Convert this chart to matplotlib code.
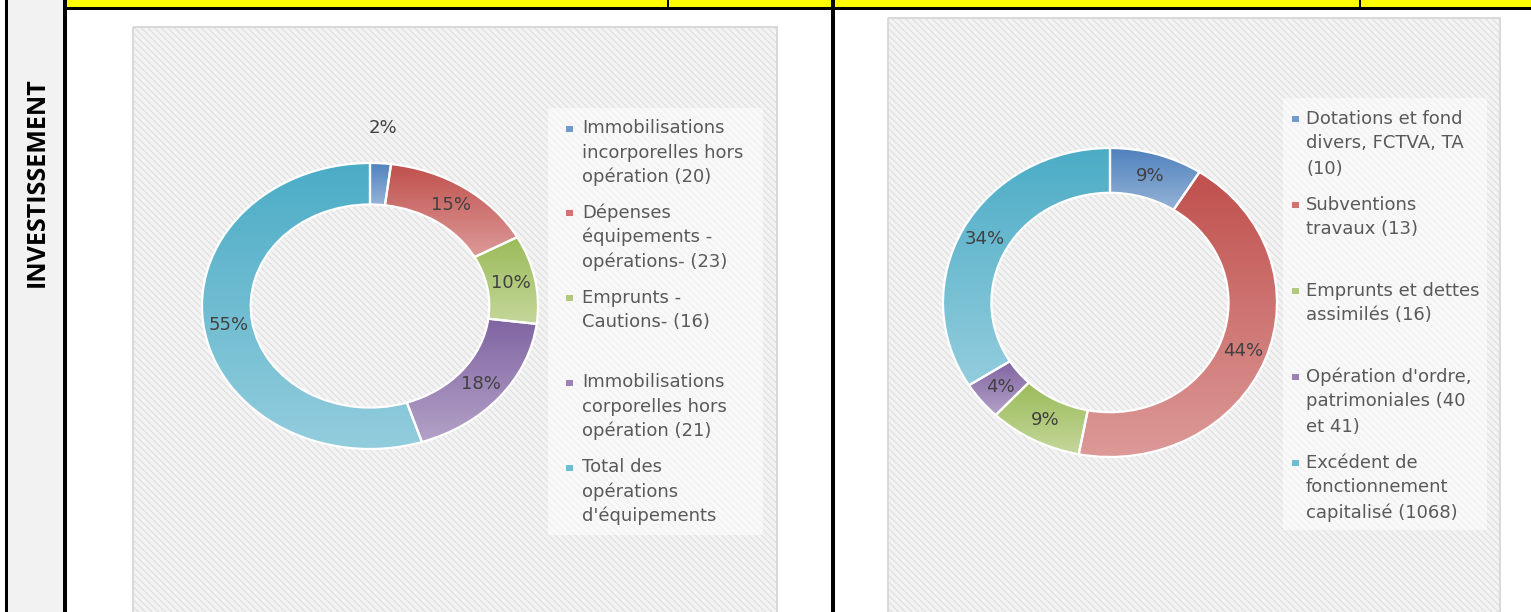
import numpy as np
import matplotlib
matplotlib.use('Agg')
import matplotlib.pyplot as plt
from matplotlib.patches import Rectangle
from matplotlib.colors import to_rgb

# Données : section INVESTISSEMENT (dépenses à gauche, recettes à droite)
depenses_labels = ['Immobilisations\nincorporelles hors\nopération (20)',
                   'Dépenses\néquipements -\nopérations- (23)',
                   'Emprunts -\nCautions- (16)',
                   'Immobilisations\ncorporelles hors\nopération (21)',
                   "Total des\nopérations\nd'équipements"]
depenses_values = [2, 15, 10, 18, 55]

recettes_labels = ['Dotations et fond\ndivers, FCTVA, TA\n(10)',
                   'Subventions\ntravaux (13)',
                   'Emprunts et dettes\nassimilés (16)',
                   "Opération d'ordre,\npatrimoniales (40\net 41)",
                   'Excédent de\nfonctionnement\ncapitalisé (1068)']
recettes_values = [9, 44, 9, 4, 34]

section = 'INVESTISSEMENT'

# couleurs Office : haut foncé -> bas clair (dégradé)
couleurs_haut = ['#4f81bd', '#c0504d', '#9bbb59', '#8064a2', '#4bacc6']
couleurs_bas = ['#95b3d7', '#dc9a98', '#c4d79b', '#b3a2c7', '#93cddd']

plt.rcParams['hatch.linewidth'] = 0.7

W, H = 1531, 612
fig = plt.figure(figsize=(W / 100, H / 100), dpi=100)
fig.patch.set_facecolor('white')

# axe de fond en pixels (y vers le bas)
bg = fig.add_axes([0, 0, 1, 1])
bg.set_xlim(0, W)
bg.set_ylim(H, 0)
bg.axis('off')


def px(p):
    return p * 72 / 100


# colonne de gauche + bandeau jaune + traits du tableau
bg.add_patch(Rectangle((6, 0), 59, H, facecolor='#f2f2f2', lw=0))
bg.add_patch(Rectangle((66, 0), W - 66, 7, facecolor='#ffff00', lw=0))
bg.plot([66, W], [7.5, 7.5], color='black', lw=px(3))
bg.plot([5.5, 5.5], [0, H], color='black', lw=px(3))
bg.plot([65, 65], [0, H], color='black', lw=px(4))
bg.plot([833, 833], [0, H], color='black', lw=px(4))
bg.plot([668, 668], [0, 7], color='black', lw=px(2))
bg.plot([1360, 1360], [0, 7], color='black', lw=px(2))

bg.text(37, 182, section, rotation=90, ha='center', va='center',
        fontsize=18, fontweight='bold', family=['Open Sans', 'DejaVu Sans'], color='black')

# zones de graphique hachurées
for (x0, y0, x1) in [(133, 27, 777), (888, 18, 1500)]:
    bg.add_patch(Rectangle((x0, y0), x1 - x0, H - y0 + 10, facecolor='#f3f3f3',
                           edgecolor='#dcdcdc', hatch='\\\\\\\\\\', lw=0))
    bg.add_patch(Rectangle((x0, y0), x1 - x0, H - y0 + 10, facecolor='none',
                           edgecolor='#d9d9d9', lw=px(2)))


def degrade(c1, c2):
    t = np.linspace(0, 1, 256)[:, None, None]
    return (1 - t) * np.array(to_rgb(c1)) + t * np.array(to_rgb(c2))


def donut(cx, cy, rx, ry, values):
    lim = 1.3
    w = rx * 2 * lim
    h = ry * 2 * lim
    ax = fig.add_axes([(cx - w / 2) / W, 1 - (cy + h / 2) / H, w / W, h / H])
    wedges, _ = ax.pie(values, colors=couleurs_haut, startangle=90, counterclock=False,
                       wedgeprops=dict(width=0.29, edgecolor='white', linewidth=1.6))
    total = sum(values)
    for i, wdg in enumerate(wedges):
        wdg.set_facecolor('none')
        wdg.set_zorder(2)
        x0, y0, x1, y1 = wdg.get_path().get_extents().extents
        im = ax.imshow(degrade(couleurs_haut[i], couleurs_bas[i]), extent=(x0, x1, y0, y1),
                       aspect='auto', zorder=1, interpolation='bilinear')
        im.set_clip_path(wdg)
        mid = np.deg2rad((wdg.theta1 + wdg.theta2) / 2)
        pct = values[i] / total * 100
        r = 0.855 if pct > 3 else 1.25
        ax.text(r * np.cos(mid), r * np.sin(mid), f'{pct:.0f}%', ha='center', va='center',
                fontsize=13, color='#404040', zorder=3)
    ax.set_aspect('auto')
    ax.set_xlim(-lim, lim)
    ax.set_ylim(-lim, lim)
    ax.axis('off')


def legende(labels, box, x_marq, x_txt, y0, pas_entree, pas_ligne):
    bg.add_patch(Rectangle((box[0], box[1]), box[2] - box[0], box[3] - box[1],
                           facecolor='white', alpha=0.55, lw=0))
    for i, lab in enumerate(labels):
        yb = y0 + i * pas_entree
        c = np.mean([to_rgb(couleurs_haut[i]), to_rgb(couleurs_bas[i])], axis=0)
        bg.add_patch(Rectangle((x_marq, yb - 8.5), 8, 7, facecolor=c, edgecolor='white', lw=0.6))
        for j, ligne in enumerate(lab.split('\n')):
            bg.text(x_txt, yb + j * pas_ligne, ligne, fontsize=13, color='#595959',
                    ha='left', va='baseline')


donut(370, 306, 168, 143, depenses_values)
donut(1110, 302.5, 167, 154.5, recettes_values)

legende(depenses_labels, (548, 108, 763, 535), 565, 582, 133, 84.8, 24.5)
legende(recettes_labels, (1283, 98, 1487, 530), 1291, 1306, 123.5, 86, 25)

plt.savefig('out.png', dpi=100, facecolor='white')
